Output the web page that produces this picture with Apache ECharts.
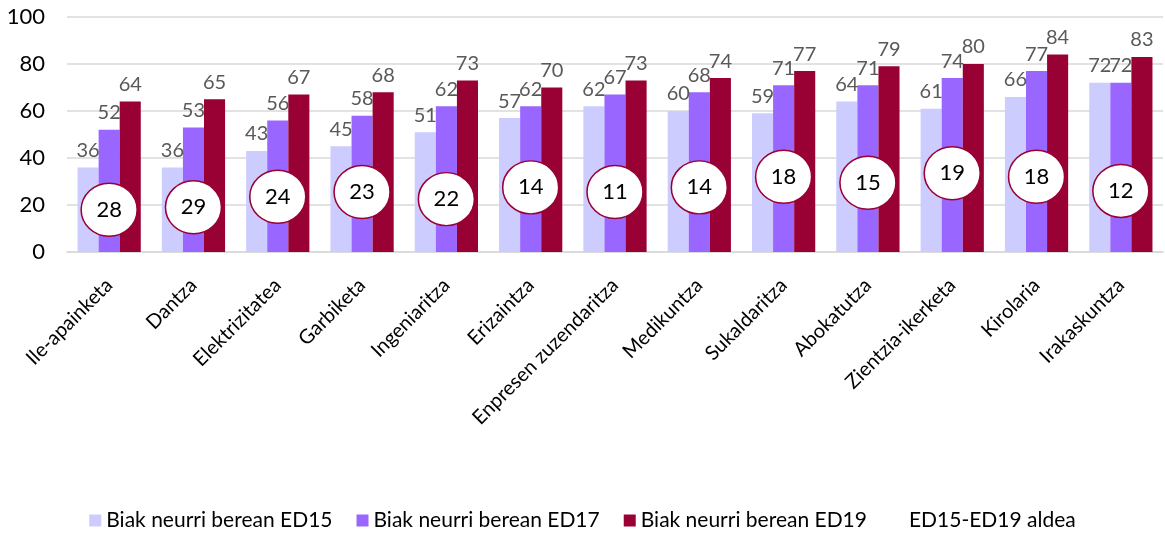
<!DOCTYPE html>
<html>
<head>
<meta charset="utf-8">
<script src="https://cdn.jsdelivr.net/npm/echarts@6/dist/echarts.min.js"></script>
<style>
  html, body { margin: 0; padding: 0; background: #fff; }
  #main { width: 1165px; height: 541px; }
</style>
</head>
<body>
<div id="main"></div>
<script>
// categories and values
const categories = ['Ile-apainketa', 'Dantza', 'Elektrizitatea', 'Garbiketa', 'Ingeniaritza', 'Erizaintza',
  'Enpresen zuzendaritza', 'Medikuntza', 'Sukaldaritza', 'Abokatutza', 'Zientzia-ikerketa', 'Kirolaria', 'Irakaskuntza'];
const ed15 = [36, 36, 43, 45, 51, 57, 62, 60, 59, 64, 61, 66, 72];
const ed17 = [52, 53, 56, 58, 62, 62, 67, 68, 71, 71, 74, 77, 72];
const ed19 = [64, 65, 67, 68, 73, 70, 73, 74, 77, 79, 80, 84, 83];
const aldea = [28, 29, 24, 23, 22, 14, 11, 14, 18, 15, 19, 18, 12];
// height (in axis units) where each difference bubble sits
const aldeaLevel = [18, 19, 23.5, 25.5, 22.5, 27.5, 25.5, 27.5, 32, 29.5, 33.5, 32, 26];
const yTicks = [0, 20, 40, 60, 80, 100];

const seriesNames = ['Biak neurri berean ED15', 'Biak neurri berean ED17', 'Biak neurri berean ED19'];
const colors = ['#CCCCFF', '#9966FF', '#990033'];
const font = 'Lato, "Open Sans", sans-serif';

const myChart = echarts.init(document.getElementById('main'));

const barSeries = [ed15, ed17, ed19].map((vals, i) => ({
  name: seriesNames[i],
  type: 'bar',
  data: vals,
  barGap: '0%',
  barCategoryGap: '25%',
  itemStyle: { color: colors[i] },
  label: {
    show: true,
    position: 'top',
    distance: 7,
    color: '#595959',
    fontSize: 20,
    fontFamily: font,
  },
}));

const option = {
  animation: false,
  grid: { left: 67, right: 2, top: 17, bottom: 289 },
  legend: {
    bottom: 5,
    left: 'center',
    itemWidth: 12,
    itemHeight: 12,
    itemGap: 24,
    textStyle: { fontSize: 21, fontFamily: font, color: '#000' },
    data: [
      { name: seriesNames[0], icon: 'rect' },
      { name: seriesNames[1], icon: 'rect' },
      { name: seriesNames[2], icon: 'rect' },
      { name: 'ED15-ED19 aldea', icon: 'rect', itemStyle: { opacity: 0 } },
    ],
  },
  xAxis: {
    type: 'category',
    data: categories,
    axisTick: { show: false },
    axisLine: { lineStyle: { color: '#d9d9d9', width: 1.5 } },
    axisLabel: {
      rotate: 45,
      interval: 0,
      margin: 30,
      fontSize: 20,
      fontFamily: font,
      color: '#000',
    },
  },
  yAxis: {
    type: 'value',
    min: yTicks[0],
    max: yTicks[yTicks.length - 1],
    interval: 20,
    axisLine: { show: false },
    axisTick: { show: false },
    splitLine: { lineStyle: { color: '#d9d9d9', width: 1.5 } },
    axisLabel: { fontSize: 22, fontFamily: font, color: '#000', margin: 22 },
  },
  series: [
    ...barSeries,
    {
      name: 'ED15-ED19 aldea',
      type: 'scatter',
      data: aldeaLevel,
      symbol: 'circle',
      symbolSize: [56, 53],
      z: 5,
      itemStyle: { color: '#fff', borderColor: '#990033', borderWidth: 1.5, opacity: 1 },
      label: {
        show: true,
        position: 'inside',
        formatter: (p) => String(aldea[p.dataIndex]),
        fontSize: 22,
        fontFamily: font,
        color: '#000',
      },
    },
  ],
};

myChart.setOption(option);
</script>
</body>
</html>
